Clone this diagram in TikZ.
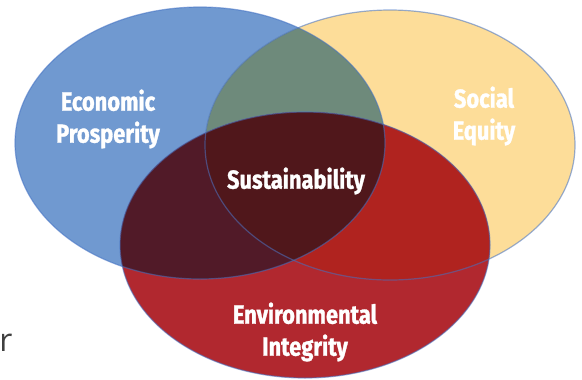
\documentclass[tikz,border=0pt]{standalone}
\usepackage{fontspec}
\setmainfont{Fira Sans}[FakeStretch=0.84,BoldFeatures={FakeBold=1.2}]
\newfontfamily\cutfont{Open Sans}
\usetikzlibrary{positioning}

\definecolor{econblue}{HTML}{7099D0}
\definecolor{socyellow}{HTML}{FDDD99}
\definecolor{envred}{HTML}{B1282F}
\definecolor{blueyellow}{HTML}{6E8A7B}
\definecolor{bluered}{HTML}{511A28}
\definecolor{yellowred}{HTML}{B0231F}
\definecolor{allthree}{HTML}{50171B}
\definecolor{rimblue}{HTML}{4472C4}

\begin{document}
\begin{tikzpicture}[x=0.75pt,y=-0.75pt,
    rim/.style={draw=rimblue,draw opacity=0.55,line width=0.9pt},
    lbl/.style={text=white,align=center,
      font=\fontsize{19.5}{24}\selectfont\bfseries}]
  \useasboundingbox (0,0) rectangle (582,379);
  % the three circles
  \def\econpath{(200,143) ellipse [x radius=185,y radius=136]}
  \def\socpath{(390,145) ellipse [x radius=185,y radius=135]}
  \def\envpath{(305,245) ellipse [x radius=185,y radius=133]}
  \fill[econblue] \econpath;
  \fill[socyellow] \socpath;
  \fill[envred] \envpath;
  % overlaps
  \begin{scope}
    \clip \econpath;
    \fill[blueyellow] \socpath;
    \fill[bluered] \envpath;
  \end{scope}
  \begin{scope}
    \clip \socpath;
    \fill[yellowred] \envpath;
  \end{scope}
  \begin{scope}
    \clip \econpath;
    \clip \socpath;
    \fill[allthree] \envpath;
  \end{scope}
  \draw[rim] \econpath;
  \draw[rim] \socpath;
  \draw[rim] \envpath;
  % labels
  \node[lbl] (econ) at (108,119) {Economic\\Prosperity};
  \node[lbl] (social) at (484,116) {Social\\Equity};
  \node[lbl] (sust) at (296,181) {Sustainability};
  \node[lbl] (env) at (305,332) {Environmental\\Integrity};
  \node[anchor=west,inner sep=0pt,text=black!75,
    font=\cutfont\fontsize{24}{24}\selectfont] (cut) at (-1,343) {r};
\end{tikzpicture}
\end{document}
